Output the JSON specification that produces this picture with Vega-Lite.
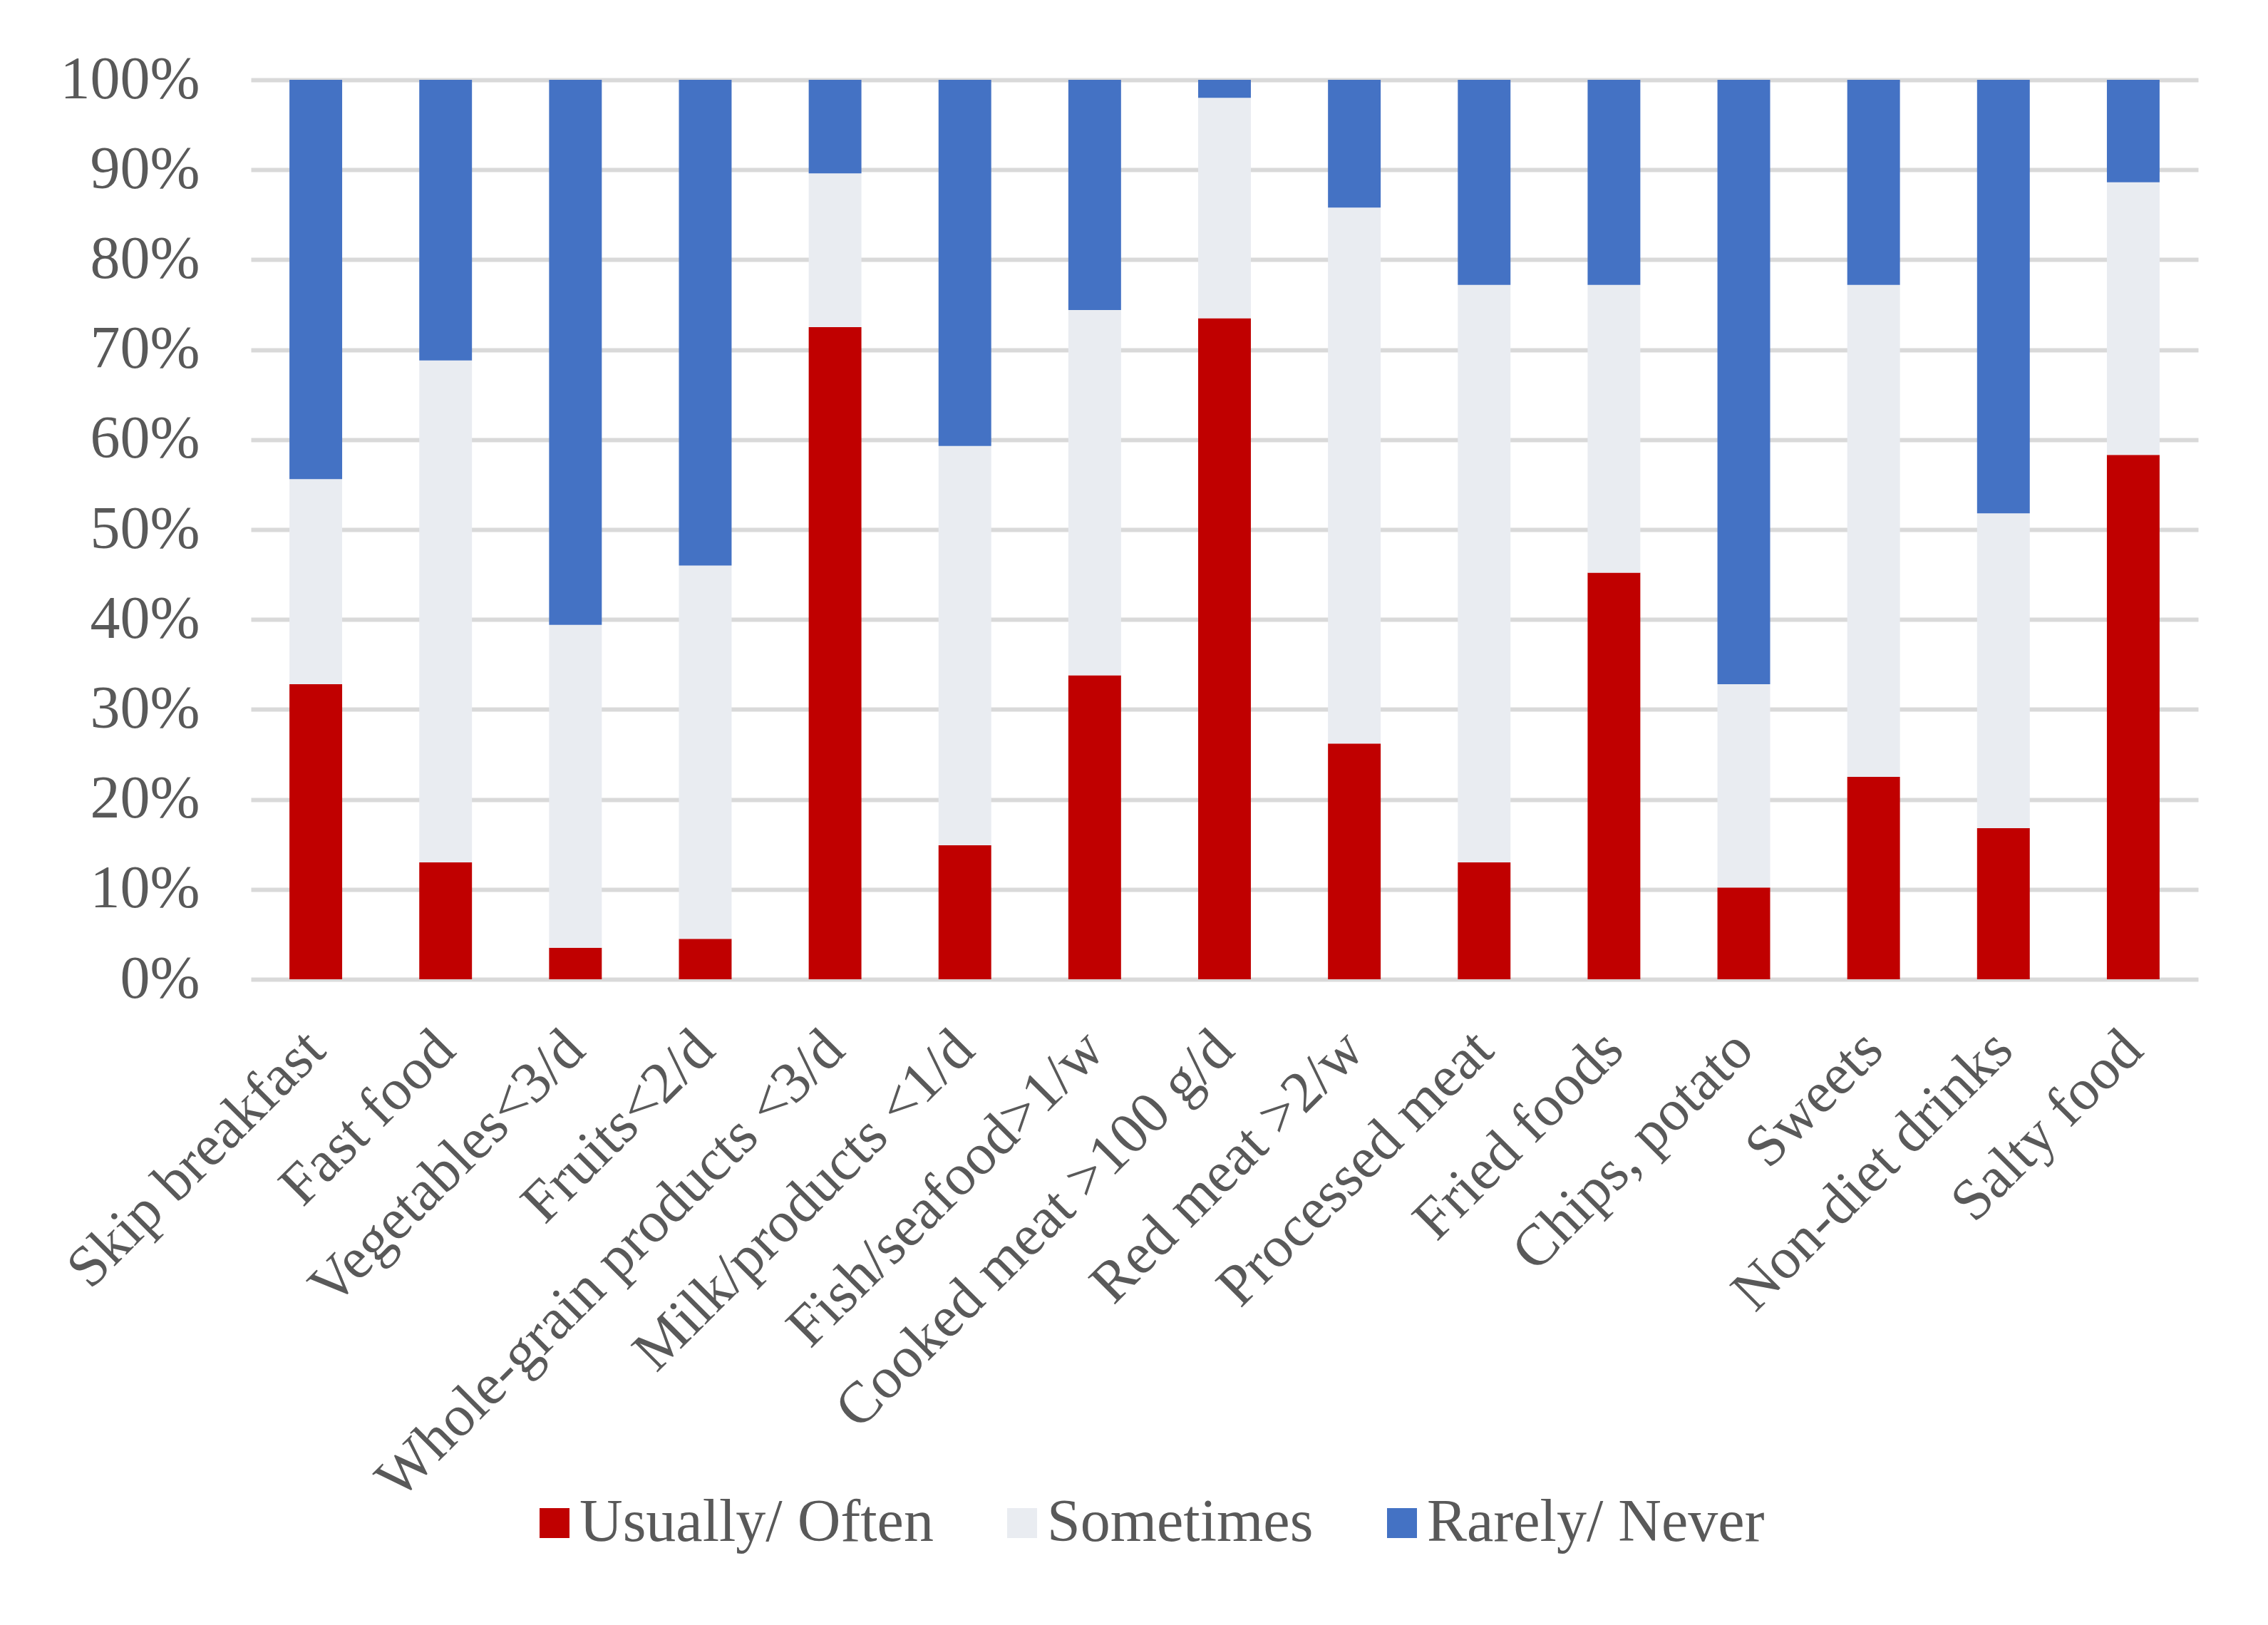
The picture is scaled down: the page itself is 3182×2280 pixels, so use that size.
{
  "$schema": "https://vega.github.io/schema/vega-lite/v6.json",
  "autosize": {"type": "none"},
  "width": 2732,
  "height": 1262,
  "padding": {"left": 352, "top": 112, "right": 98, "bottom": 906},
  "background": "#ffffff",
  "data": {
    "values": [
      {"food": "Skip breakfast", "level": "Usually/ Often", "ord": 1, "pct": 32.8},
      {"food": "Skip breakfast", "level": "Sometimes", "ord": 2, "pct": 22.8},
      {"food": "Skip breakfast", "level": "Rarely/ Never", "ord": 3, "pct": 44.4},
      {"food": "Fast food", "level": "Usually/ Often", "ord": 1, "pct": 13.0},
      {"food": "Fast food", "level": "Sometimes", "ord": 2, "pct": 55.8},
      {"food": "Fast food", "level": "Rarely/ Never", "ord": 3, "pct": 31.2},
      {"food": "Vegetables<3/d", "level": "Usually/ Often", "ord": 1, "pct": 3.5},
      {"food": "Vegetables<3/d", "level": "Sometimes", "ord": 2, "pct": 35.9},
      {"food": "Vegetables<3/d", "level": "Rarely/ Never", "ord": 3, "pct": 60.6},
      {"food": "Fruits<2/d", "level": "Usually/ Often", "ord": 1, "pct": 4.5},
      {"food": "Fruits<2/d", "level": "Sometimes", "ord": 2, "pct": 41.5},
      {"food": "Fruits<2/d", "level": "Rarely/ Never", "ord": 3, "pct": 54.0},
      {"food": "Whole-grain products <3/d", "level": "Usually/ Often", "ord": 1, "pct": 72.5},
      {"food": "Whole-grain products <3/d", "level": "Sometimes", "ord": 2, "pct": 17.1},
      {"food": "Whole-grain products <3/d", "level": "Rarely/ Never", "ord": 3, "pct": 10.4},
      {"food": "Milk/products <1/d", "level": "Usually/ Often", "ord": 1, "pct": 14.9},
      {"food": "Milk/products <1/d", "level": "Sometimes", "ord": 2, "pct": 44.4},
      {"food": "Milk/products <1/d", "level": "Rarely/ Never", "ord": 3, "pct": 40.7},
      {"food": "Fish/seafood>1/w", "level": "Usually/ Often", "ord": 1, "pct": 33.8},
      {"food": "Fish/seafood>1/w", "level": "Sometimes", "ord": 2, "pct": 40.6},
      {"food": "Fish/seafood>1/w", "level": "Rarely/ Never", "ord": 3, "pct": 25.6},
      {"food": "Cooked meat >100 g/d", "level": "Usually/ Often", "ord": 1, "pct": 73.5},
      {"food": "Cooked meat >100 g/d", "level": "Sometimes", "ord": 2, "pct": 24.5},
      {"food": "Cooked meat >100 g/d", "level": "Rarely/ Never", "ord": 3, "pct": 2.0},
      {"food": "Red meat >2/w", "level": "Usually/ Often", "ord": 1, "pct": 26.2},
      {"food": "Red meat >2/w", "level": "Sometimes", "ord": 2, "pct": 59.6},
      {"food": "Red meat >2/w", "level": "Rarely/ Never", "ord": 3, "pct": 14.2},
      {"food": "Processed meat", "level": "Usually/ Often", "ord": 1, "pct": 13.0},
      {"food": "Processed meat", "level": "Sometimes", "ord": 2, "pct": 64.2},
      {"food": "Processed meat", "level": "Rarely/ Never", "ord": 3, "pct": 22.8},
      {"food": "Fried foods", "level": "Usually/ Often", "ord": 1, "pct": 45.2},
      {"food": "Fried foods", "level": "Sometimes", "ord": 2, "pct": 32.0},
      {"food": "Fried foods", "level": "Rarely/ Never", "ord": 3, "pct": 22.8},
      {"food": "Chips, potato", "level": "Usually/ Often", "ord": 1, "pct": 10.2},
      {"food": "Chips, potato", "level": "Sometimes", "ord": 2, "pct": 22.6},
      {"food": "Chips, potato", "level": "Rarely/ Never", "ord": 3, "pct": 67.2},
      {"food": "Sweets", "level": "Usually/ Often", "ord": 1, "pct": 22.5},
      {"food": "Sweets", "level": "Sometimes", "ord": 2, "pct": 54.7},
      {"food": "Sweets", "level": "Rarely/ Never", "ord": 3, "pct": 22.8},
      {"food": "Non-diet drinks", "level": "Usually/ Often", "ord": 1, "pct": 16.8},
      {"food": "Non-diet drinks", "level": "Sometimes", "ord": 2, "pct": 35.0},
      {"food": "Non-diet drinks", "level": "Rarely/ Never", "ord": 3, "pct": 48.2},
      {"food": "Salty food", "level": "Usually/ Often", "ord": 1, "pct": 58.3},
      {"food": "Salty food", "level": "Sometimes", "ord": 2, "pct": 30.3},
      {"food": "Salty food", "level": "Rarely/ Never", "ord": 3, "pct": 11.4}
    ]
  },
  "mark": {"type": "bar"},
  "encoding": {
    "x": {
      "field": "food",
      "type": "nominal",
      "sort": null,
      "scale": {"paddingInner": 0.594, "paddingOuter": 0.297},
      "axis": {
        "title": null,
        "labelAngle": -45,
        "labelAlign": "right",
        "labelBaseline": "top",
        "labelPadding": 57,
        "labelOffset": -29,
        "labelFont": "Liberation Serif",
        "labelFontSize": 82,
        "labelColor": "#595959",
        "labelLimit": 2000,
        "labelOverlap": false,
        "ticks": false,
        "domain": false,
        "grid": false
      }
    },
    "y": {
      "field": "pct",
      "type": "quantitative",
      "stack": "normalize",
      "scale": {"domain": [0, 1], "nice": false},
      "axis": {
        "title": null,
        "values": [0, 0.1, 0.2, 0.3, 0.4, 0.5, 0.6, 0.7, 0.8, 0.9, 1],
        "format": ".0%",
        "labelFont": "Liberation Serif",
        "labelFontSize": 84,
        "labelColor": "#595959",
        "labelPadding": 72,
        "labelLimit": 1000,
        "ticks": false,
        "domain": false,
        "grid": true,
        "gridColor": "#d9d9d9",
        "gridWidth": 6
      }
    },
    "color": {
      "field": "level",
      "type": "nominal",
      "scale": {
        "domain": ["Usually/ Often", "Sometimes", "Rarely/ Never"],
        "range": ["#c00000", "#e9ecf1", "#4472c4"]
      },
      "legend": {
        "title": null,
        "orient": "none",
        "direction": "horizontal",
        "legendX": 384,
        "legendY": 1983,
        "symbolType": "square",
        "symbolSize": 1764,
        "symbolStrokeWidth": 0,
        "labelFont": "Liberation Serif",
        "labelFontSize": 84,
        "labelColor": "#595959",
        "labelOffset": -7,
        "columnPadding": 82,
        "labelLimit": 2000
      }
    },
    "order": {"field": "ord", "type": "quantitative"}
  },
  "config": {
    "view": {"stroke": null}
  }
}
